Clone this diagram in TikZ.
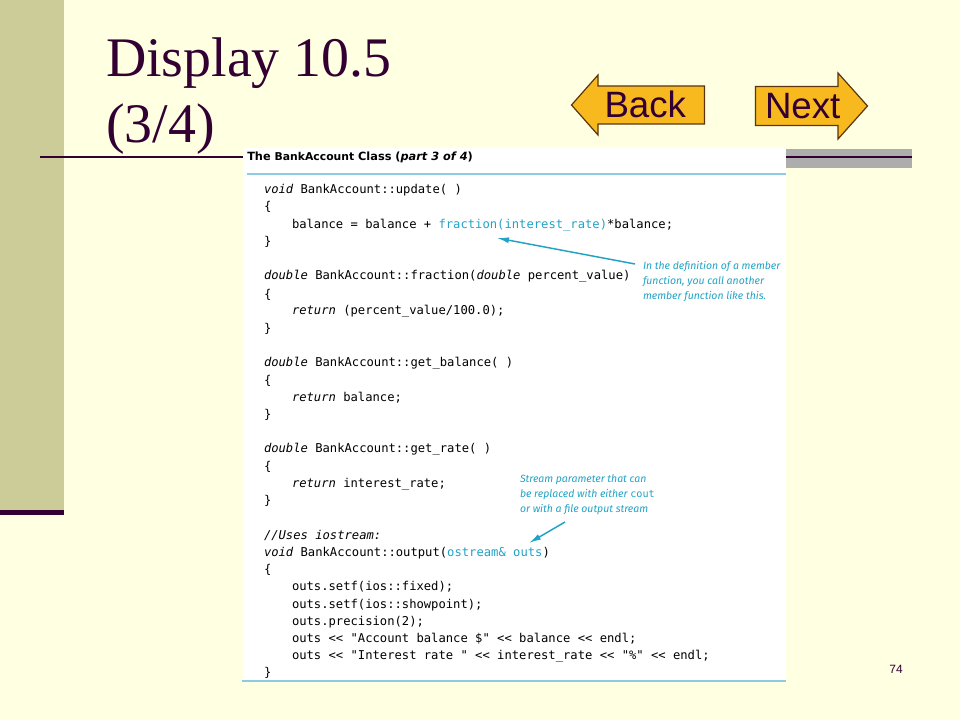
\documentclass[tikz,border=0pt]{standalone}
\usepackage{fontspec}
\setmainfont{Liberation Serif}
\setsansfont{Liberation Sans}
\setmonofont{DejaVu Sans Mono}
\newfontfamily\notefont{Fira Sans}
\newfontfamily\headfont{DejaVu Sans}
\definecolor{pagebg}{HTML}{FFFFE1}
\definecolor{barcol}{HTML}{CCCC99}
\definecolor{darkpur}{HTML}{330033}
\definecolor{btnfill}{HTML}{F8B91F}
\definecolor{btnline}{HTML}{5A3510}
\definecolor{cyancol}{HTML}{22A3C6}
\definecolor{rulecol}{HTML}{8CCBE3}
\definecolor{graycol}{HTML}{ADADAD}
\definecolor{codecol}{HTML}{000000}
\newcommand{\kw}[1]{{\itshape #1}}
\newcommand{\hl}[1]{\textcolor{cyancol}{#1}}
\tikzset{
  x=0.75pt,y=-0.75pt,
  codeline/.style={anchor=base west,inner sep=0pt,outer sep=0pt,text=codecol,font=\ttfamily\fontsize{9.13pt}{11pt}\selectfont},
  noteline/.style={anchor=base west,inner sep=0pt,outer sep=0pt,text=cyancol,font=\notefont\itshape\fontsize{7.85pt}{9pt}\selectfont},
  titleline/.style={anchor=base west,inner sep=0pt,outer sep=0pt,text=darkpur,font=\rmfamily\fontsize{41.9pt}{50pt}\selectfont},
  btn/.style={draw=btnline,fill=btnfill,line width=0.9pt,line join=miter},
  btntext/.style={anchor=base west,inner sep=0pt,outer sep=0pt,text=darkpur,font=\sffamily\fontsize{27.5pt}{32pt}\selectfont},
  pointer/.style={draw=cyancol,line width=1.1pt,-{Latex[length=9pt,width=4.5pt]}},
}
\usetikzlibrary{arrows.meta}
\begin{document}
\begin{tikzpicture}
\useasboundingbox (0,0) rectangle (960,720);
\fill[pagebg] (0,0) rectangle (960,720);
\fill[barcol] (0,0) rectangle (64,510);
\fill[darkpur] (0,510) rectangle (64,515);
\fill[graycol] (786,149) rectangle (912,168);
\node[titleline] (t1) at (106,77) {Display 10.5};
\node[titleline] (t2) at (106,143) {(3/4)};
\fill[darkpur] (40,156) rectangle (243,158);
\fill[darkpur] (786,156) rectangle (912,158);
\fill[white] (243,148) rectangle (786,681);
\draw[rulecol,line width=0.8pt] (247,174) -- (786,174);
\draw[rulecol,line width=0.9pt] (242,681) -- (786,681);
% buttons
\draw[btn] (571.5,105) -- (598,75) -- (598,86) -- (704.5,86) -- (704.5,124) -- (598,124) -- (598,135) -- cycle;
\draw[btn] (755.5,86.5) -- (838,86.5) -- (838,73) -- (867.5,106) -- (838,139) -- (838,125.5) -- (755.5,125.5) -- cycle;
\node[btntext] (back) at (604.5,118) {Back};
\node[btntext] (next) at (765,119) {Next};
% heading
\node[anchor=base west,inner sep=0pt,text=black,font=\headfont\bfseries\fontsize{8.5pt}{10pt}\selectfont] (head) at (247,161) {The {\fontsize{8.1pt}{10pt}\selectfont BankAccount} Class ({\itshape part 3 of 4})};
% code
\node[codeline] (l0) at (264,193.5) {\kw{void} BankAccount::update( )};
\node[codeline] (l1) at (264,211) {\{};
\node[codeline] (l2) at (292,229) {balance = balance + \hl{fraction(interest\_rate)}*balance;};
\node[codeline] (l3) at (264,246) {\}};
\node[codeline] (l5) at (264,280) {\kw{double} BankAccount::fraction(\kw{double} percent\_value)};
\node[codeline] (l6) at (264,298) {\{};
\node[codeline] (l7) at (292,315) {\kw{return} (percent\_value/100.0);};
\node[codeline] (l8) at (264,332) {\}};
\node[codeline] (l10) at (264,366) {\kw{double} BankAccount::get\_balance( )};
\node[codeline] (l11) at (264,384) {\{};
\node[codeline] (l12) at (292,401) {\kw{return} balance;};
\node[codeline] (l13) at (264,418) {\}};
\node[codeline] (l15) at (264,452) {\kw{double} BankAccount::get\_rate( )};
\node[codeline] (l16) at (264,470) {\{};
\node[codeline] (l17) at (292,487) {\kw{return} interest\_rate;};
\node[codeline] (l18) at (264,504) {\}};
\node[codeline] (l20) at (264,539) {\kw{//Uses iostream:}};
\node[codeline] (l21) at (264,556) {\kw{void} BankAccount::output(\hl{ostream\& outs})};
\node[codeline] (l22) at (264,573) {\{};
\node[codeline] (l23) at (292,590) {outs.setf(ios::fixed);};
\node[codeline] (l24) at (292,608) {outs.setf(ios::showpoint);};
\node[codeline] (l25) at (292,625) {outs.precision(2);};
\node[codeline] (l26) at (292,642) {outs << "Account balance \$" << balance << endl;};
\node[codeline] (l27) at (292,659) {outs << "Interest rate " << interest\_rate << "\%" << endl;};
\node[codeline] (l28) at (264,676) {\}};
% notes
\node[noteline] (n1a) at (643,270) {In the definition of a member};
\node[noteline] (n1b) at (643,285) {function, you call another};
\node[noteline] (n1c) at (643,300) {member function like this.};
\node[noteline] (n2a) at (520,482) {Stream parameter that can};
\node[noteline] (n2b) at (520,497) {be replaced with either {\ttfamily\fontsize{7.6pt}{9pt}\selectfont\upshape cout}};
\node[noteline] (n2c) at (520,512) {or with a file output stream};
% connectors
\coordinate (p1s) at (635,264);
\coordinate (p1e) at (497,238);
\coordinate (p2s) at (565,522);
\coordinate (p2e) at (529,543);
\draw[pointer] (p1s) -- (p1e);
\draw[pointer] (p2s) -- (p2e);
\node[anchor=base east,inner sep=0pt,text=darkpur,font=\sffamily\fontsize{9pt}{11pt}\selectfont] (pg) at (903,673) {74};
\end{tikzpicture}
\end{document}
